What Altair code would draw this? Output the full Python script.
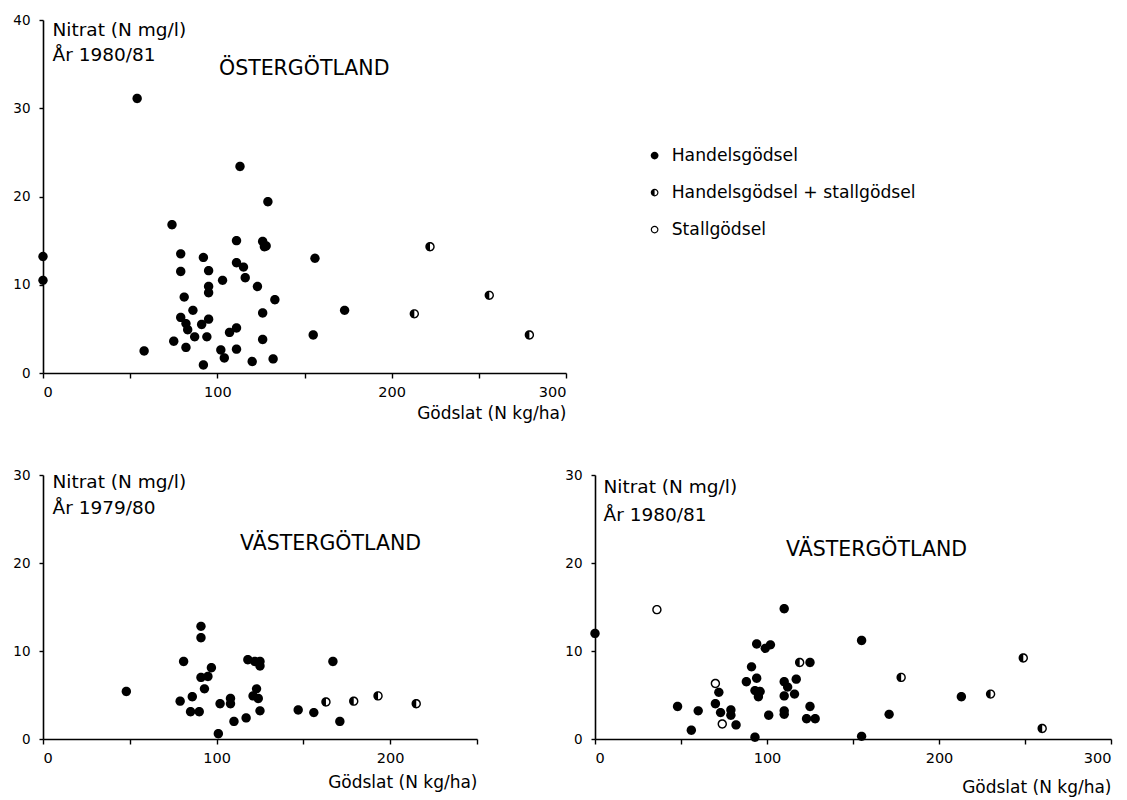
import altair as alt
import pandas as pd

TYPES = ["Handelsgödsel", "Handelsgödsel + stallgödsel", "Stallgödsel"]
REGIONS = ["ÖSTERGÖTLAND", "VÄSTERGÖTLAND", "VÄSTERGÖTLAND"]
YEARS = ["År 1980/81", "År 1979/80", "År 1980/81"]
Y_TITLE = "Nitrat (N mg/l)"
X_TITLE = "Gödslat (N kg/ha)"

# Östergötland 1980/81
ost_h_x = [0, 0, 54, 58, 74, 75, 79, 79, 81, 79, 82, 83, 82, 86, 87, 91, 92, 92, 95, 95,
           95, 95, 94, 103, 102, 104, 107, 111, 111, 111, 111, 113, 115, 116, 120, 123,
           126, 126, 126, 127, 128, 129, 132, 133, 155, 156, 173]
ost_h_y = [13.2, 10.5, 31.1, 2.5, 16.8, 3.6, 13.5, 11.5, 8.6, 6.3, 5.6, 4.9, 2.9, 7.1, 4.1,
           5.5, 0.9, 13.1, 11.6, 9.8, 9.1, 6.1, 4.1, 10.5, 2.6, 1.7, 4.6, 5.1, 2.7, 15.0,
           12.5, 23.4, 12.0, 10.8, 1.3, 9.8, 14.9, 6.8, 3.8, 14.3, 14.4, 19.4, 1.6, 8.3,
           4.3, 13.0, 7.1]
ost_m_x = [213, 222, 256, 279]
ost_m_y = [6.7, 14.3, 8.8, 4.3]

# Västergötland 1979/80
v79_h_x = [48, 81, 79, 86, 85, 90, 91, 91, 91, 93, 95, 97, 101, 102, 108, 108, 110, 117,
           118, 122, 125, 125, 123, 121, 124, 125, 147, 156, 167, 171]
v79_h_y = [5.4, 8.8, 4.3, 4.8, 3.1, 3.1, 12.8, 11.5, 7.0, 5.7, 7.1, 8.1, 0.6, 4.0, 4.6,
           4.0, 2.0, 2.4, 9.0, 8.8, 8.8, 8.3, 5.7, 4.9, 4.6, 3.2, 3.3, 3.0, 8.8, 2.0]
v79_m_x = [163, 179, 193, 215]
v79_m_y = [4.2, 4.3, 4.9, 4.0]

# Västergötland 1980/81
v80_h_x = [0, 48, 56, 60, 72, 70, 73, 79, 79, 82, 88, 91, 94, 94, 99, 102, 93, 95, 96, 95,
           93, 101, 110, 110, 110, 112, 116, 117, 110, 110, 125, 125, 123, 128, 155, 155,
           171, 213]
v80_h_y = [12.0, 3.7, 1.0, 3.2, 5.3, 4.0, 3.0, 3.3, 2.7, 1.6, 6.5, 8.2, 6.9, 10.8, 10.3,
           10.7, 5.5, 5.1, 5.4, 4.8, 0.2, 2.7, 14.8, 6.5, 4.9, 5.9, 5.1, 6.8, 3.2, 2.8,
           8.7, 3.7, 2.3, 2.3, 11.2, 0.3, 2.8, 4.8]
v80_m_x = [119, 178, 230, 249, 260]
v80_m_y = [8.7, 7.0, 5.1, 9.2, 1.2]
v80_s_x = [36, 70, 74]
v80_s_y = [14.7, 6.3, 1.7]


def rows(panel, xs, ys, typ):
    return [{"panel": panel, "x": x, "y": y, "typ": typ} for x, y in zip(xs, ys)]


df = pd.DataFrame(
    rows("ost", ost_h_x, ost_h_y, TYPES[0]) + rows("ost", ost_m_x, ost_m_y, TYPES[1])
    + rows("v79", v79_h_x, v79_h_y, TYPES[0]) + rows("v79", v79_m_x, v79_m_y, TYPES[1])
    + rows("v80", v80_h_x, v80_h_y, TYPES[0]) + rows("v80", v80_m_x, v80_m_y, TYPES[1])
    + rows("v80", v80_s_x, v80_s_y, TYPES[2])
)

# Symbol paths in the unit square: full disc, ring with left half filled, ring
DISC = "M-1,0A1,1 0 1,1 1,0A1,1 0 1,1 -1,0Z"
HOLE = "M-0.7,0A0.7,0.7 0 1,0 0.7,0A0.7,0.7 0 1,0 -0.7,0Z"
LEFT = "M0,-0.7A0.7,0.7 0 0,0 0,0.7Z"
PATHS = [DISC, DISC + HOLE + LEFT, DISC + HOLE]

FONT = "DejaVu Sans"

shape_enc = alt.Shape(
    "typ:N",
    scale=alt.Scale(domain=TYPES, range=PATHS),
    legend=alt.Legend(
        title=None, orient="none", legendX=603, legendY=127,
        symbolSize=60, symbolFillColor="black", symbolStrokeWidth=0, symbolOpacity=1,
        labelFont=FONT, labelFontSize=17.2, labelColor="black", labelOffset=8.5,
        labelLimit=0, rowPadding=19, padding=0,
    ),
)


def panel(key, year, xmax, ymax, w, h, title_y, tx, ty, lh, region_name, rx, ry):
    x_axis = alt.Axis(
        values=list(range(0, xmax + 1, 50)),
        labelExpr="datum.value % 100 === 0 ? datum.label : ''",
        title=X_TITLE, titleAnchor="end", titleAlign="right", titleY=title_y,
        titleBaseline="middle", titleFontSize=17,
        labelFontSize=14.5, labelPadding=7, tickSize=5,
    )
    y_axis = alt.Axis(
        values=list(range(0, ymax + 1, 10)),
        title=[Y_TITLE, year], titleAngle=0, titleAlign="left", titleBaseline="alphabetic",
        titleX=tx, titleY=ty, titleLineHeight=lh, titleFontSize=18.5,
        labelFontSize=13.5, labelPadding=9, tickSize=4, minExtent=38,
    )
    points = (
        alt.Chart(df)
        .transform_filter(alt.datum.panel == key)
        .mark_point(filled=True, color="black", opacity=1, size=88)
        .encode(
            x=alt.X("x:Q", scale=alt.Scale(domain=[0, xmax], nice=False, zero=False), axis=x_axis),
            y=alt.Y("y:Q", scale=alt.Scale(domain=[0, ymax], nice=False, zero=False), axis=y_axis),
            shape=shape_enc,
        )
    )
    label = (
        alt.Chart(pd.DataFrame({"t": [region_name]}))
        .mark_text(align="left", baseline="alphabetic", font=FONT, fontSize=20.5, color="black")
        .encode(x=alt.value(rx), y=alt.value(ry), text="t:N")
    )
    return alt.layer(points, label).properties(width=w, height=h)


top = panel("ost", YEARS[0], 300, 40, 523, 353, 40, 9, 15, 25, REGIONS[0], 176, 55)
bl = panel("v79", YEARS[1], 250, 30, 434, 264, 43, 9, 12, 26, REGIONS[1], 197, 75)
br = panel("v80", YEARS[2], 300, 30, 516, 264, 48, 8, 17, 28, REGIONS[2], 191, 81)

chart = (
    alt.vconcat(
        top,
        alt.hconcat(bl, br, spacing=118, bounds="flush"),
        spacing=102, bounds="flush",
    )
    .properties(padding={"left": 5, "top": 13, "right": 5, "bottom": 5}, background="white")
    .configure_view(stroke=None)
    .configure_axis(
        grid=False, domainColor="black", domainWidth=1.6, tickColor="black", tickWidth=1.4,
        labelFont=FONT, labelColor="black", titleFont=FONT, titleColor="black",
        titleFontWeight="normal",
    )
)

chart.save("out.html", embed_options={"renderer": "svg", "actions": False})
